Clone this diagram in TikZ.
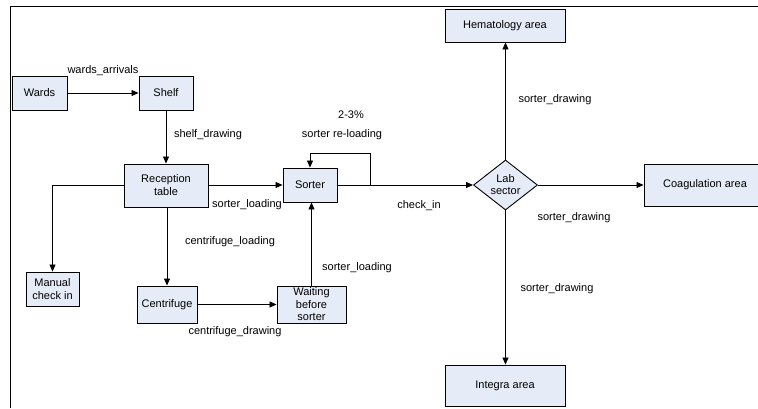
\documentclass[tikz,border=0pt]{standalone}
\usepackage{fontspec}
\setmainfont{Liberation Sans}
\usetikzlibrary{arrows.meta,shapes.geometric}
\definecolor{boxfill}{HTML}{E6ECF7}
\tikzset{
  box/.style={draw=black, fill=boxfill, line width=0.9pt, inner sep=1pt, align=center,
    font=\fontsize{11}{13}\selectfont},
  decision/.style={diamond, draw=black, fill=boxfill, line width=0.9pt, inner sep=0pt, align=center,
    minimum width=64pt, minimum height=40pt, font=\fontsize{11}{12}\selectfont},
  lbl/.style={inner sep=0pt, font=\fontsize{11}{13}\selectfont},
  conn/.style={line width=0.8pt, -{Triangle[length=7pt,width=6pt]}},
  plain/.style={line width=0.8pt}
}
\begin{document}
\begin{tikzpicture}[x=1pt,y=-1pt]
\useasboundingbox (0,0) rectangle (758,408);
\begin{scope}
\clip (0,0) rectangle (758,408);
\draw[line width=0.9pt] (10,408) -- (10,6) -- (758,6);
% boxes
\node[box, minimum width=55pt, minimum height=34pt] (wards) at (39.5,93) {Wards};
\node[box, minimum width=54pt, minimum height=34pt] (shelf) at (166,93) {Shelf};
\node[box, minimum width=84pt, minimum height=43pt] (recep) at (166,185.5) {Reception\\table};
\node[box, minimum width=54pt, minimum height=34pt] (sorter) at (310,185) {Sorter};
\node[box, minimum width=53pt, minimum height=34pt] (manual) at (52.5,289) {Manual\\check in};
\node[box, minimum width=60pt, minimum height=37pt] (centr) at (167,304.5) {Centrifuge};
\node[box, minimum width=69pt, minimum height=37pt, font=\fontsize{11}{12.5}\selectfont] (wait) at (311.5,304.5) {Waiting\\before\\sorter};
\node[decision] (lab) at (505.5,185) {Lab\\sector};
\node[box, minimum width=120pt, minimum height=33pt] (hema) at (505,25.5) {Hematology area};
\node[box, minimum width=122pt, minimum height=42pt] (coag) at (705,185) {Coagulation area};
\node[box, minimum width=120pt, minimum height=41pt] (integ) at (505,385.5) {Integra area};
% connectors
\draw[conn] (wards) -- (shelf);
\draw[conn] (shelf) -- (recep);
\draw[conn] (recep.east |- sorter.west) -- (sorter.west);
\draw[conn] (recep.west) -| (manual.north);
\draw[conn] (recep.south -| centr.north) -- (centr.north);
\draw[conn] (centr) -- (wait);
\draw[conn] (wait.north) -- (wait.north |- sorter.south);
\draw[conn] (sorter.east) -- (lab.west);
\coordinate (loopA) at (370,185);
\coordinate (loopB) at (370,153);
\draw[conn] (loopA) -- (loopB) -| (sorter.north);
\draw[conn] (lab.north) -- (lab.north |- hema.south);
\draw[conn] (lab.east) -- (coag.west);
\draw[conn] (lab.south) -- (lab.south |- integ.north);
% labels
\node[lbl] (l1) at (103,71) {wards\_arrivals};
\node[lbl] (l2) at (208,135) {shelf\_drawing};
\node[lbl] (l3) at (351,115) {2-3\%};
\node[lbl] (l4) at (342,135) {sorter re-loading};
\node[lbl] (l5) at (247,205) {sorter\_loading};
\node[lbl] (l6) at (419,206) {check\_in};
\node[lbl] (l7) at (230,242) {centrifuge\_loading};
\node[lbl] (l8) at (357,268) {sorter\_loading};
\node[lbl] (l9) at (235,332) {centrifuge\_drawing};
\node[lbl] (l10) at (555,100) {sorter\_drawing};
\node[lbl] (l11) at (574,218) {sorter\_drawing};
\node[lbl] (l12) at (557,289) {sorter\_drawing};
\end{scope}
\end{tikzpicture}
\end{document}
